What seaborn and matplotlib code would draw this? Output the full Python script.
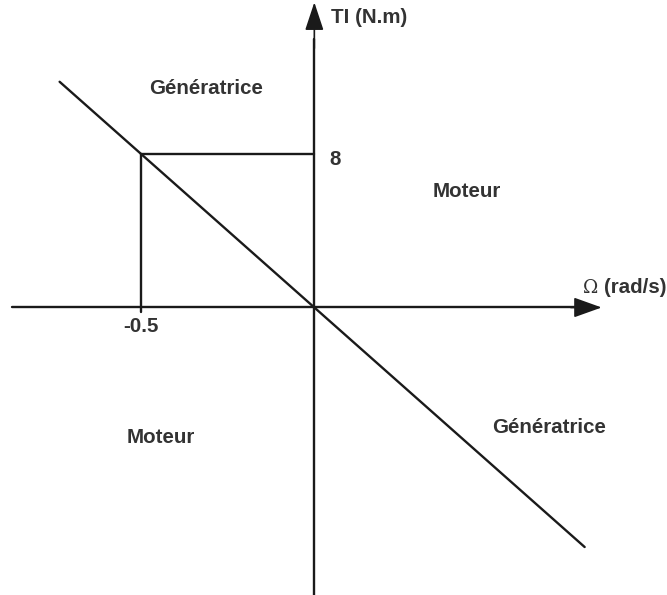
import matplotlib
matplotlib.use("Agg")
import matplotlib.pyplot as plt
import seaborn as sns
import pandas as pd

sns.set_theme(style="white")
plt.rcParams['font.family'] = ['Liberation Sans', 'DejaVu Sans']

# Data
omega_line = [-0.735, 0.78]
torque_line = [11.76, -12.48]
point_omega = -0.5
point_torque = 8
x_tick_label = "-0.5"
y_tick_label = "8"
x_label = "(rad/s)"
y_label = "TI (N.m)"
quadrant_labels = ["Génératrice", "Moteur", "Moteur", "Génératrice"]
quadrant_pos = [(-0.311, 11.39), (0.439, 6.02), (-0.442, -6.75), (0.676, -6.23)]

line_col = "#1a1a1a"
text_col = "#333333"
fs = 14.8

fig = plt.figure(figsize=(6.67, 5.95), dpi=100)
ax = fig.add_axes([0, 0, 1, 1])
ax.set_xlim(-0.907, 1.0176)
ax.set_ylim(-14.98, 16.02)
ax.axis("off")

df = pd.DataFrame({"omega": omega_line, "torque": torque_line})
sns.lineplot(data=df, x="omega", y="torque", ax=ax, color=line_col, lw=1.7)

# axes with arrows
ax.plot([-0.873, 0.76], [0, 0], color=line_col, lw=1.7)
ax.annotate("", xy=(0.829, 0), xytext=(0.74, 0),
            arrowprops=dict(arrowstyle="-|>,head_length=1.45,head_width=0.52",
                            color=line_col, lw=1.2, shrinkA=0, shrinkB=0))
ax.plot([0, 0], [-15.5, 14.0], color=line_col, lw=1.7)
ax.annotate("", xy=(0, 15.9), xytext=(0, 13.5),
            arrowprops=dict(arrowstyle="-|>,head_length=1.45,head_width=0.48",
                            color=line_col, lw=1.2, shrinkA=0, shrinkB=0))

# guide lines
ax.plot([point_omega, point_omega], [point_torque, -0.22], color=line_col, lw=1.7)
ax.plot([point_omega, 0], [point_torque, point_torque], color=line_col, lw=1.7)

# labels
ax.text(0.048, 15.12, y_label, fontsize=fs, fontweight="bold",
        color=text_col, ha="left", va="center")
ax.text(1.017, 1.05, x_label, fontsize=fs, fontweight="bold",
        color=text_col, ha="right", va="center")
ax.text(0.797, 1.02, "Ω", fontsize=fs - 1.5, family=["DejaVu Serif"],
        color=text_col, ha="center", va="center")
ax.text(0.06, point_torque - 0.3, y_tick_label, fontsize=fs, fontweight="bold",
        color=text_col, ha="center", va="center")
ax.text(point_omega, -1.0, x_tick_label, fontsize=fs, fontweight="bold",
        color=text_col, ha="center", va="center")

for lab, (x, y) in zip(quadrant_labels, quadrant_pos):
    ax.text(x, y, lab, fontsize=fs, fontweight="bold", color=text_col,
            ha="center", va="center")

fig.savefig("out.png", dpi=100)
